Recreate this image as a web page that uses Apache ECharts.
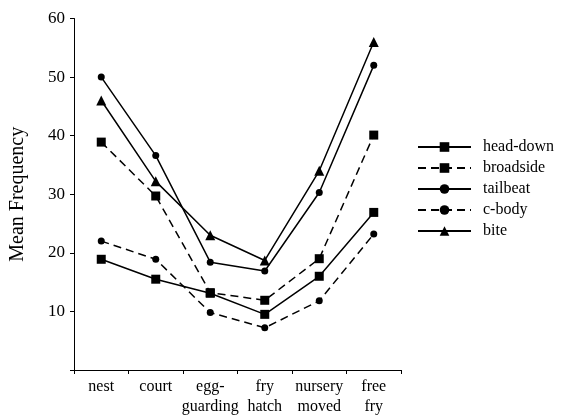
<!DOCTYPE html>
<html><head><meta charset="utf-8">
<script src="https://cdn.jsdelivr.net/npm/echarts@6/dist/echarts.min.js"></script>
<style>html,body{margin:0;padding:0;background:#fff}#c{width:562px;height:418px}</style>
</head><body><div id="c"></div>
<script>
var categories = ['nest', 'court', 'egg-\nguarding', 'fry\nhatch', 'nursery\nmoved', 'free\nfry'];
var headDown  = [18.9, 15.5, 13.1, 9.5, 16.0, 26.9];
var broadside = [38.9, 29.7, 13.2, 11.9, 19.0, 40.1];
var tailbeat  = [50.0, 36.6, 18.4, 16.9, 30.3, 52.0];
var cBody     = [22.0, 18.9, 9.8, 7.2, 11.8, 23.2];
var bite      = [46.0, 32.2, 23.0, 18.7, 34.0, 56.0];
var yTicks = [0, 10, 20, 30, 40, 50, 60];

var FONT = 'Liberation Serif';
function mk(name, data, symbol, size, dashed) {
  return {
    name: name, type: 'line', data: data, symbol: symbol, symbolSize: size,
    lineStyle: {color: '#000', width: 1.5, type: dashed ? [8, 5] : 'solid'},
    itemStyle: {color: '#000', borderWidth: 0},
    emphasis: {disabled: true}
  };
}
var chart = echarts.init(document.getElementById('c'), null, {renderer: 'canvas'});
chart.setOption({
  animation: false,
  backgroundColor: '#fff',
  grid: {left: 68, top: 18.5, width: 333, height: 351.5},
  legend: {
    orient: 'vertical', left: 417, top: 139, padding: 0, itemWidth: 53, itemHeight: 12, itemGap: 5,
    textStyle: {fontFamily: FONT, fontSize: 16, color: '#000', padding: [0, 0, 0, 7]},
    data: ['head-down', 'broadside', 'tailbeat', 'c-body', 'bite']
  },
  xAxis: {
    type: 'category', data: categories, boundaryGap: true,
    axisLine: {lineStyle: {color: '#000', width: 1}},
    axisTick: {show: true, length: 4, lineStyle: {color: '#000'}},
    axisLabel: {fontFamily: FONT, fontSize: 16, color: '#000', margin: 7, lineHeight: 20, interval: 0}
  },
  yAxis: {
    type: 'value', min: 0, max: 60, interval: 10,
    name: 'Mean Frequency', nameLocation: 'middle', nameGap: 46, nameRotate: 90,
    nameTextStyle: {fontFamily: FONT, fontSize: 20, color: '#000'},
    axisLine: {show: true, lineStyle: {color: '#000', width: 1}},
    axisTick: {show: true, length: 4, lineStyle: {color: '#000'}},
    splitLine: {show: false},
    axisLabel: {fontFamily: FONT, fontSize: 17, color: '#000', margin: 9,
      formatter: function (v) { return yTicks.indexOf(v) > 0 ? String(v) : ''; }}
  },
  series: [
    mk('head-down', headDown, 'rect', 9, false),
    mk('broadside', broadside, 'rect', 9, true),
    mk('tailbeat', tailbeat, 'circle', 7, false),
    mk('c-body', cBody, 'circle', 7, true),
    mk('bite', bite, 'triangle', 10, false)
  ]
});
</script></body></html>
